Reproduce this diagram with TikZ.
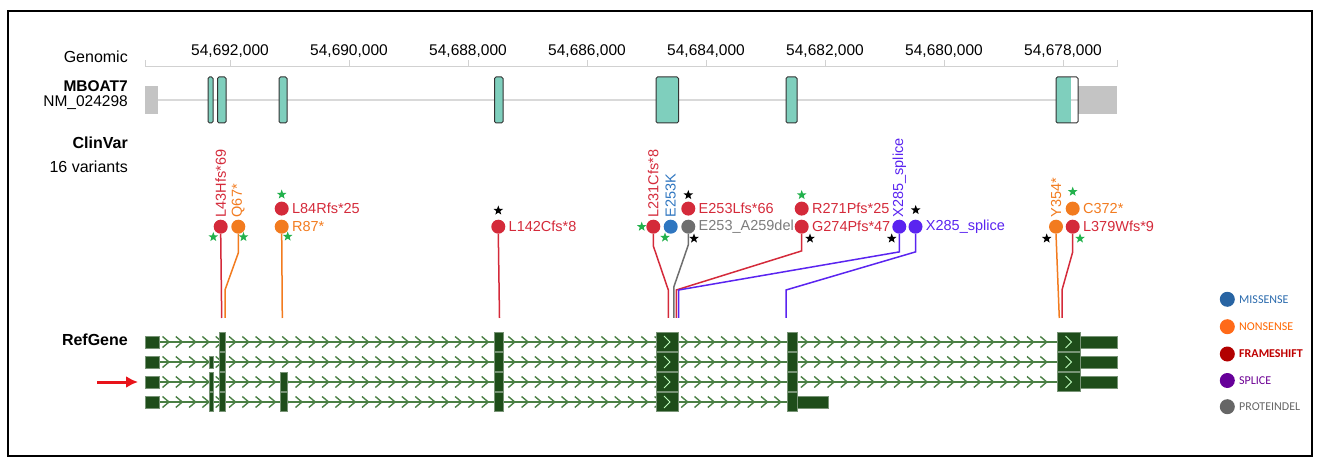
\documentclass[tikz,border=0pt]{standalone}
\usepackage{fontspec}
\setmainfont{Liberation Sans}
\newfontfamily\legendfont{Carlito}
\usetikzlibrary{arrows.meta, shapes.geometric, positioning}

\definecolor{fsred}{HTML}{D42A3A}
\definecolor{nsorange}{HTML}{F27B1F}
\definecolor{msblue}{HTML}{2F76C0}
\definecolor{indelgray}{HTML}{6E6E6E}
\definecolor{splpurple}{HTML}{5A24F0}
\definecolor{exonteal}{HTML}{7FCFBD}
\definecolor{utrgray}{HTML}{C4C4C4}
\definecolor{genegreen}{HTML}{1E4D1A}
\definecolor{chevgreen}{HTML}{4A7F44}
\definecolor{stargreen}{HTML}{22B14C}
\definecolor{arrowred}{HTML}{E8131A}

\tikzset{
	var/.style={circle, fill=#1, minimum size=14pt, inner sep=0},
	vlab/.style={rotate=90, anchor=west, inner sep=0, text=#1, font=\fontsize{14.5}{16}\selectfont},
	hlab/.style={anchor=west, inner sep=0, text=#1, font=\fontsize{14.5}{16}\selectfont},
	stem/.style={draw=#1, line width=1.5pt},
	gstar/.style={star, star points=5, star point ratio=2.4, fill=stargreen, minimum size=10pt, inner sep=0},
	bstar/.style={gstar, fill=black},
	trk/.style={anchor=east, inner sep=0, font=\fontsize{16}{18}\selectfont},
	exon/.style={fill=exonteal, draw=black!80, line width=1pt, rounded corners=1.5pt},
	cds/.style={fill=genegreen, draw=genegreen!60!white, line width=0.5pt},
	chev/.style={draw=chevgreen, line width=1.4pt},
	leg/.style={circle, fill=#1, minimum size=15pt, inner sep=0},
	legtext/.style={anchor=west, inner sep=0, text=#1, font=\legendfont\fontsize{12}{14}\selectfont}
}

\begin{document}
\begin{tikzpicture}[x=1pt, y=-1pt, >={Latex[length=12pt,width=12pt]}]
	\useasboundingbox (0,0) rectangle (1320,462);
	\draw[line width=1.5pt] (8,11) rectangle (1312,456);
	
	% genomic axis
	\node[trk] (genomic) at (128,57) {Genomic};
	\draw[black!18, line width=1pt] (145,67) -- (1117,67);
	\foreach \x in {145,230,349,468,587,706,825,944,1063,1117}
		\draw[black!18, line width=1pt] (\x,67) -- (\x,60);
	\foreach \x/\t in {230/{54,692,000}, 349/{54,690,000}, 468/{54,688,000}, 587/{54,686,000},
		706/{54,684,000}, 825/{54,682,000}, 944/{54,680,000}, 1063/{54,678,000}}
		\node[font=\fontsize{15.5}{17}\selectfont, inner sep=0] at (\x,51) {\t};
	
	% MBOAT7 transcript
	\node[trk, font=\fontsize{15.5}{17}\selectfont] (mboat) at (128,86.5) {\bfseries MBOAT7};
	\node[trk, font=\fontsize{15.5}{17}\selectfont] (nm) at (128,103) {NM\_024298};
	\draw[black!15, line width=1.2pt] (158,100) -- (1078,100);
	\fill[utrgray] (145,86) rectangle (158,114);
	\fill[utrgray] (1078,86) rectangle (1117,114);
	\foreach \a/\b in {208/213, 217.5/226, 279/287, 494.5/503, 656/678.5, 786/797}
		\draw[exon] (\a,77) rectangle (\b,123);
	\fill[exonteal] (1056,77) rectangle (1071,123);
	\draw[exon, fill=none] (1056,77) rectangle (1078,123);
	
	% ClinVar variants
	\node[trk] (clinvar) at (128,143) {\bfseries ClinVar};
	\node[trk] (nvar) at (128,167) {16 variants};
	
	\node[var=fsred] (l43) at (220.7,226.7) {};
	\node[var=nsorange] (q67) at (238.3,226.7) {};
	\node[var=nsorange] (r87) at (281.7,226.7) {};
	\node[var=fsred, above=3.7pt of r87] (l84) {};
	\node[var=fsred] (l142) at (498.3,226.7) {};
	\node[var=fsred] (l231) at (653.3,226.7) {};
	\node[var=msblue] (e253k) at (670.7,226.7) {};
	\node[var=indelgray] (del) at (688.3,226.7) {};
	\node[var=fsred, above=3.7pt of del] (e253l) {};
	\node[var=fsred] (g274) at (801.7,226.7) {};
	\node[var=fsred, above=3.7pt of g274] (r271) {};
	\node[var=splpurple] (x285a) at (899.3,226.7) {};
	\node[var=splpurple] (x285b) at (915.5,226.7) {};
	\node[var=nsorange] (y354) at (1056,226.7) {};
	\node[var=fsred] (l379) at (1072.7,226.7) {};
	\node[var=nsorange, above=3.7pt of l379] (c372) {};
	
	\node[above=2pt of l43, vlab=fsred] (l43lab) {L43Hfs*69};
	\node[above=2pt of q67, vlab=nsorange] (q67lab) {Q67*};
	\node[right=3pt of l84, hlab=fsred] (l84lab) {L84Rfs*25};
	\node[right=3pt of r87, hlab=nsorange] (r87lab) {R87*};
	\node[right=3pt of l142, hlab=fsred] (l142lab) {L142Cfs*8};
	\node[above=2pt of l231, vlab=fsred] (l231lab) {L231Cfs*8};
	\node[above=2pt of e253k, vlab=msblue] (e253klab) {E253K};
	\node[right=3pt of e253l, hlab=fsred] (e253llab) {E253Lfs*66};
	\node[right=3pt of del, hlab=indelgray!90] (dellab) {E253\_A259del};
	\node[right=3pt of r271, hlab=fsred] (r271lab) {R271Pfs*25};
	\node[right=3pt of g274, hlab=fsred] (g274lab) {G274Pfs*47};
	\node[above=2pt of x285a, vlab=splpurple] (x285alab) {X285\_splice};
	\node[right=3pt of x285b, hlab=splpurple] (x285blab) {X285\_splice};
	\node[above=2pt of y354, vlab=nsorange] (y354lab) {Y354*};
	\node[right=3pt of c372, hlab=nsorange] (c372lab) {C372*};
	\node[right=3pt of l379, hlab=fsred] (l379lab) {L379Wfs*9};
	
	% review stars
	\node[gstar] (s43) at (213.3,237) {};
	\node[gstar] (s67) at (243.5,237) {};
	\node[gstar] (s84) at (281.7,194.5) {};
	\node[gstar] (s87) at (287.7,236.5) {};
	\node[bstar] (s142) at (498.3,210.5) {};
	\node[gstar] (s231) at (641.7,226.7) {};
	\node[gstar] (s253k) at (665,237.5) {};
	\node[bstar] (s253l) at (688.3,195) {};
	\node[bstar] (sdel) at (694,238.5) {};
	\node[gstar] (s271) at (801.7,195) {};
	\node[bstar] (s274) at (810,238.5) {};
	\node[bstar] (s285a) at (891.7,238.5) {};
	\node[bstar] (s285b) at (915.7,210) {};
	\node[bstar] (s354) at (1046.7,238.5) {};
	\node[gstar] (s372) at (1072.7,191.7) {};
	\node[gstar] (s379) at (1080,238.5) {};
	
	% stems down to the gene models
	\coordinate (e43) at (221.7,318);
	\coordinate (e67) at (225,318);
	\coordinate (e87) at (282.3,318);
	\coordinate (e142) at (499.5,318);
	\coordinate (e231) at (668.3,318);
	\coordinate (e253k) at (671.2,318);
	\coordinate (edel) at (673.8,318);
	\coordinate (e274) at (676.3,318);
	\coordinate (e285a) at (678.6,318);
	\coordinate (e285b) at (786,318);
	\coordinate (e354) at (1059.3,318);
	\coordinate (e379) at (1062,318);
	
	\draw[stem=fsred] (l43.south) -- (e43);
	\draw[stem=nsorange] (q67.south) -- ++(0,19) -- ([yshift=28pt]e67) -- (e67);
	\draw[stem=nsorange] (r87.south) -- (e87);
	\draw[stem=fsred] (l142.south) -- (e142);
	\draw[stem=fsred] (l231.south) -- ++(0,12) -- ([yshift=28pt]e231) -- (e231);
	\draw[stem=msblue] (e253k.south) -- (e253k);
	\draw[stem=indelgray] (del.south) -- ++(0,11) -- ([yshift=31pt]edel) -- (edel);
	\draw[stem=fsred] (g274.south) -- ++(0,17) -- ([yshift=28pt]e274) -- (e274);
	\draw[stem=splpurple] (x285a.south) -- ++(0,18) -- ([yshift=28pt]e285a) -- (e285a);
	\draw[stem=splpurple] (x285b.south) -- ++(0,18) -- ([yshift=28pt]e285b) -- (e285b);
	\draw[stem=nsorange] (y354.south) -- (e354);
	\draw[stem=fsred] (l379.south) -- ++(0,18) -- ([yshift=28pt]e379) -- (e379);
	
	% RefGene models
	\node[trk] (refgene) at (128,340) {\bfseries RefGene};
	\foreach \r in {342,362,382} {
		\draw[chev] (159,\r) -- (1057,\r);
		\foreach \x in {166,179.3,...,1050}
			\draw[chev] (\x-3.5,\r-5.5) -- (\x+3,\r) -- (\x-3.5,\r+5.5);
	}
	\draw[chev] (159,402) -- (787,402);
	\foreach \x in {166,179.3,...,782}
		\draw[chev] (\x-3.5,396.5) -- (\x+3,402) -- (\x-3.5,407.5);
	
	\foreach \r in {342,362,382,402}
		\draw[cds] (145,\r-6) rectangle (159,\r+6);
	\foreach \r in {342,362,382,402} {
		\foreach \a/\b in {219.3/225.7, 494.5/503, 656.7/678.3, 787/797}
			\draw[cds] (\a,\r-9.5) rectangle (\b,\r+9.5);
		\draw[draw=green!25!white, line width=1pt] (664,\r-6) -- (670,\r) -- (664,\r+6);
	}
	\foreach \r in {342,362,382} {
		\draw[cds] (1080.7,\r-6) rectangle (1117.3,\r+6);
		\draw[cds] (1057.3,\r-9.5) rectangle (1080.7,\r+9.5);
		\draw[draw=green!25!white, line width=1pt] (1065.5,\r-6) -- (1071.5,\r) -- (1065.5,\r+6);
	}
	\draw[cds] (209,356) rectangle (213.3,368);
	\foreach \r in {382,402} {
		\draw[cds] (209,\r-9.5) rectangle (213.3,\r+9.5);
		\draw[cds] (280,\r-9.5) rectangle (287.7,\r+9.5);
	}
	\draw[cds] (797,396) rectangle (828.3,408);
	
	% selected transcript
	\coordinate (arrtail) at (97,382);
	\coordinate (arrhead) at (138,382);
	\draw[->, draw=arrowred, line width=3pt] (arrtail) -- (arrhead);
	
	% legend
	\node[leg=msblue!85!black] (lgms) at (1227.3,299.3) {};
	\node[leg=orange!70!red!90] (lgns) at (1227.3,326.7) {};
	\node[leg=red!70!black] (lgfs) at (1227.3,354) {};
	\node[leg=violet!80!blue] (lgsp) at (1227.3,380.5) {};
	\node[leg=black!60] (lgpi) at (1227.3,406.7) {};
	\node[right=4pt of lgms, legtext=msblue!90!black] {MISSENSE};
	\node[right=4pt of lgns, legtext=orange!80!red] {NONSENSE};
	\node[right=4pt of lgfs, legtext=red!75!black] {\bfseries FRAMESHIFT};
	\node[right=4pt of lgsp, legtext=violet!85!blue] {SPLICE};
	\node[right=4pt of lgpi, legtext=black!60] {PROTEINDEL};
\end{tikzpicture}
\end{document}
